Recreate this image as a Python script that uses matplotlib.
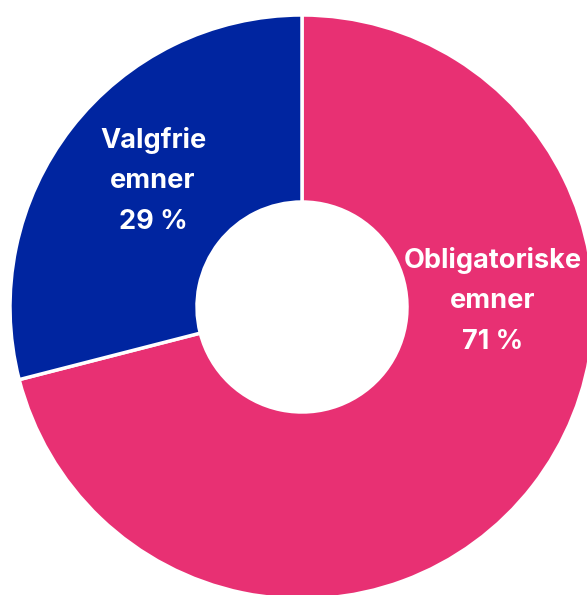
import matplotlib
matplotlib.use("Agg")
import matplotlib.pyplot as plt

categories = ["Obligatoriske\nemner", "Valgfrie\nemner"]
values = [71, 29]
colors = ["#E83073", "#0025A0"]
label_pos = [(493, 595 - 301), (153, 595 - 181)]

fig = plt.figure(figsize=(5.87, 5.95), dpi=100)
ax = fig.add_axes([0, 0, 1, 1])

wedges, _ = ax.pie(values, colors=colors, startangle=90, counterclock=False,
                   center=(302, 595 - 307), radius=292,
                   wedgeprops=dict(width=292 - 105, edgecolor="white", linewidth=2.5))
for cat, v, (x, y) in zip(categories, values, label_pos):
    ax.text(x, y, f"{cat}\n{v} %", ha="center", va="center", color="white",
            fontsize=19.5, fontweight="bold", family=["Inter", "DejaVu Sans"],
            linespacing=1.72)

ax.set_xlim(0, 587)
ax.set_ylim(0, 595)
ax.set_aspect("equal")
ax.axis("off")

fig.savefig("out.png", dpi=100)
